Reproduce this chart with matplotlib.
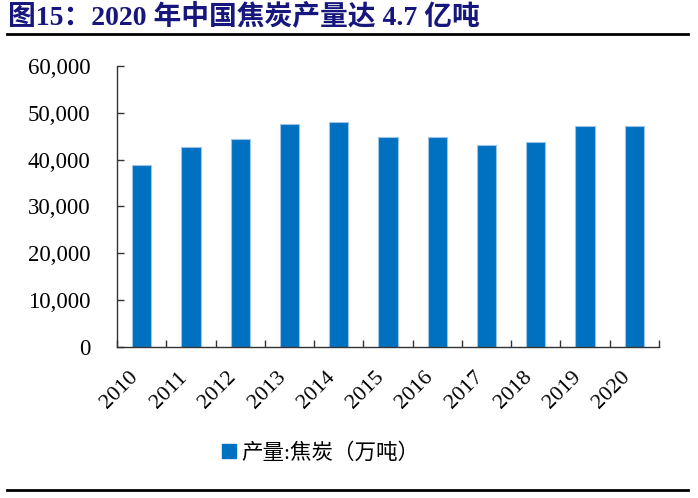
import numpy as np
import matplotlib.pyplot as plt
from matplotlib.lines import Line2D
from matplotlib.ticker import FuncFormatter, FixedLocator

years = ["2010", "2011", "2012", "2013", "2014", "2015", "2016", "2017", "2018", "2019", "2020"]
coke_output = [38757, 42779, 44323, 47636, 47981, 44778, 44911, 43143, 43820, 47126, 47116]
yticks = [0, 10000, 20000, 30000, 40000, 50000, 60000]
series_name = "产量:焦炭（万吨）"
title = "图15：2020 年中国焦炭产量达 4.7 亿吨"

serif_cjk = ["Liberation Serif", "Noto Sans CJK SC"]
plt.rcParams["font.family"] = serif_cjk

fig = plt.figure(figsize=(6.98, 4.98), dpi=100)
ax = fig.add_axes([0.1676, 0.3032, 0.7765, 0.5643])

x = np.arange(len(years))
ax.bar(x, coke_output, width=0.39, color="#0070C0", edgecolor="#9DC3E6",
       linewidth=0.8, label=series_name)

ax.set_xlim(-0.5, len(years) - 0.5)
ax.set_ylim(0, 60000)
ax.set_yticks(yticks)
ax.yaxis.set_major_formatter(FuncFormatter(lambda v, p: f"{int(v):,}"))
ax.set_xticks(x)
ax.set_xticklabels(years, rotation=45, ha="right")
ax.xaxis.set_minor_locator(FixedLocator(np.arange(-0.5, len(years), 1.0)))

ax.tick_params(axis="x", which="major", length=0, pad=15, labelsize=16)
ax.tick_params(axis="x", which="minor", direction="in", length=5, width=1, color="#333333")
ax.tick_params(axis="y", direction="in", length=5, width=1, color="#333333",
               pad=19, labelsize=16.5)

for s in ["top", "right"]:
    ax.spines[s].set_visible(False)
for s in ["left", "bottom"]:
    ax.spines[s].set_color("#333333")
    ax.spines[s].set_linewidth(1)

leg = fig.legend(handles=[Line2D([], [], marker="s", linestyle="none", color="#0070C0",
                                 markersize=10)],
                 labels=[series_name], loc="center", bbox_to_anchor=(0.458, 0.09),
                 frameon=False, fontsize=15.5, handletextpad=0.2, handlelength=0.8)

fig.text(0.012, 0.967, title, fontsize=20, fontweight="bold", color="#16167c",
         ha="left", va="center", family=serif_cjk)
fig.add_artist(Line2D([0.010, 0.986], [0.932, 0.932], color="black", linewidth=2))
fig.add_artist(Line2D([0.010, 0.986], [0.016, 0.016], color="black", linewidth=2))

fig.savefig("out.png", dpi=100)
